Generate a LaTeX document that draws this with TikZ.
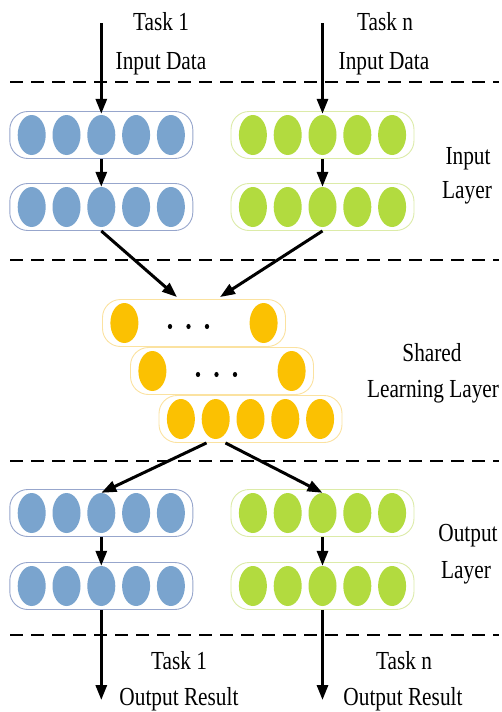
\documentclass[tikz,border=0pt]{standalone}
\usepackage{fontspec}
\setmainfont[FakeStretch=0.82]{Liberation Serif}
\usetikzlibrary{shapes.geometric,arrows.meta}

\definecolor{cellblue}{HTML}{7AA4CE}
\definecolor{cellgreen}{HTML}{B2DB3F}
\definecolor{cellorange}{HTML}{FBC102}
\definecolor{rimblue}{HTML}{97A6CC}
\definecolor{rimgreen}{HTML}{DCEBA8}
\definecolor{rimorange}{HTML}{FBE2A0}

\tikzset{
  cell/.style={ellipse, minimum width=28, minimum height=40, inner sep=0, draw=none},
  bar/.style={rectangle, rounded corners=18, minimum width=183, minimum height=47,
              inner sep=0, line width=0.9, fill=white},
  flow/.style={-{Triangle[length=15,width=11]}, line width=3},
  divider/.style={dash pattern=on 13 off 8, line width=2.6},
  caption/.style={font=\fontsize{26}{30}\selectfont, anchor=base, inner sep=0}
}

% full row of five neurons: name, x, y, fill colour, rim colour
\newcommand\fullrow[5]{%
  \node[bar, draw=#5] (#1) at (#2,#3) {};
  \foreach \k/\d in {1/-69.6,2/-34.8,3/0,4/34.8,5/69.6}
    \node[cell, fill=#4] (#1-\k) at ({#2+\d},#3) {};
}
% shortened row: two end neurons and dots
\newcommand\gaprow[5]{%
  \node[bar, draw=#5] (#1) at (#2,#3) {};
  \node[cell, fill=#4] (#1-1) at ({#2-69.6},#3) {};
  \node[cell, fill=#4] (#1-5) at ({#2+69.6},#3) {};
  \foreach \d in {-24,-5.5,13}
    \fill ({#2+\d},{#3+3.5}) ellipse [x radius=2.1, y radius=2.6];
}

\begin{document}
\begin{tikzpicture}[x=1pt,y=-1pt]
\useasboundingbox (0,0) rectangle (501,712);

% layer separators
\foreach \yy in {82,260,461,635}
  \draw[divider] (10,\yy) -- (499,\yy);

% input layer
\fullrow{ib1}{101.3}{135}{cellblue}{rimblue}
\fullrow{ib2}{101.3}{207}{cellblue}{rimblue}
\fullrow{ig1}{322.5}{135}{cellgreen}{rimgreen}
\fullrow{ig2}{322.5}{207}{cellgreen}{rimgreen}

% shared learning layer
\gaprow{sh1}{194}{323}{cellorange}{rimorange}
\gaprow{sh2}{222}{371}{cellorange}{rimorange}
\fullrow{sh3}{250.5}{419}{cellorange}{rimorange}

% output layer
\fullrow{ob1}{101.3}{513}{cellblue}{rimblue}
\fullrow{ob2}{101.3}{586}{cellblue}{rimblue}
\fullrow{og1}{322.5}{513}{cellgreen}{rimgreen}
\fullrow{og2}{322.5}{586}{cellgreen}{rimgreen}

% free ends of the input and output arrows
\coordinate (in1) at (101.3,23);
\coordinate (inn) at (322.5,23);
\coordinate (out1) at (101.3,700);
\coordinate (outn) at (322.5,700);

% data flow
\draw[flow] (in1) -- ([yshift=1]ib1-3.north);
\draw[flow] (inn) -- ([yshift=1]ig1-3.north);
\draw[flow] (ib1.south -| ib1-3) -- (ib2-3.north);
\draw[flow] (ig1.south -| ig1-3) -- (ig2-3.north);
\draw[flow] (ib2.south -| ib2-3) -- ([xshift=-17,yshift=2]sh1.north);
\draw[flow] (ig2.south -| ig2-3) -- ([xshift=26,yshift=2]sh1.north);
\draw[flow] ([xshift=-44]sh3.south) -- (ob1-3.north);
\draw[flow] ([xshift=-25]sh3.south) -- (og1-3.north);
\draw[flow] (ob1.south -| ob1-3) -- (ob2-3.north);
\draw[flow] (og1.south -| og1-3) -- (og2-3.north);
\draw[flow] (ob2.south -| ob2-3) -- (out1);
\draw[flow] (og2.south -| og2-3) -- (outn);

% captions
\node[caption] (t1a) at (161,30) {Task 1};
\node[caption] (t1b) at (161,69) {Input Data};
\node[caption] (tna) at (385,30) {Task n};
\node[caption] (tnb) at (384,69) {Input Data};

\node[caption] (ila) at (468,164) {Input};
\node[caption] (ilb) at (467,198) {Layer};

\node[caption] (sla) at (432,361) {Shared};
\node[caption] (slb) at (433,397) {Learning Layer};

\node[caption] (ola) at (468,541) {Output};
\node[caption] (olb) at (466,578) {Layer};

\node[caption] (r1a) at (179,669) {Task 1};
\node[caption] (r1b) at (179,705) {Output Result};
\node[caption] (rna) at (404,669) {Task n};
\node[caption] (rnb) at (403,705) {Output Result};
\end{tikzpicture}
\end{document}
